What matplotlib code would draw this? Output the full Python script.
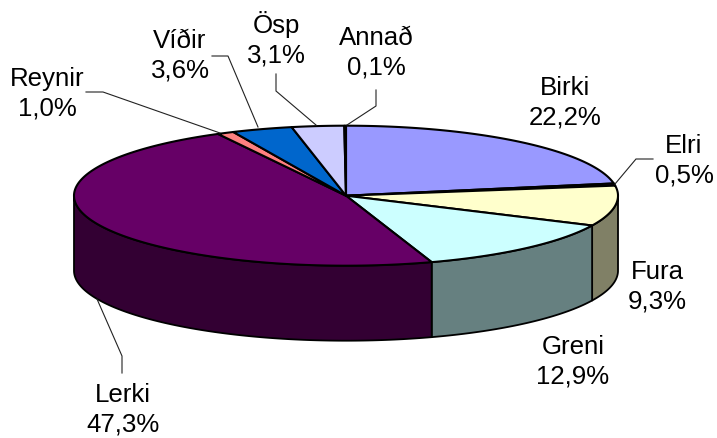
import numpy as np
import matplotlib
matplotlib.use("Agg")
import matplotlib.pyplot as plt
from matplotlib.patches import Polygon

categories = ["Birki", "Elri", "Fura", "Greni", "Lerki", "Reynir", "Víðir", "Ösp", "Annað"]
values = [22.2, 0.5, 9.3, 12.9, 47.3, 1.0, 3.6, 3.1, 0.1]
value_labels = ["22,2%", "0,5%", "9,3%", "12,9%", "47,3%", "1,0%", "3,6%", "3,1%", "0,1%"]
top_colors = ["#9999FF", "#660066", "#FFFFCC", "#CCFFFF", "#660066", "#FF8080", "#0066CC", "#CCCCFF", "#000080"]
side_colors = ["#666699", "#330033", "#808066", "#668080", "#330033", "#804040", "#003366", "#666680", "#000040"]

plt.rcParams["font.family"] = ["Liberation Sans", "DejaVu Sans"]
fig = plt.figure(figsize=(7.17, 4.39), dpi=100)
ax = fig.add_axes([0, 0, 1, 1])
ax.set_xlim(0, 717)
ax.set_ylim(439, 0)
ax.axis("off")

cx, cy, rx, ry, depth = 346, 196.7, 272, 70, 75


def pt(a):
    r = np.deg2rad(a)
    return cx + rx * np.sin(r), cy - ry * np.cos(r)


total = sum(values)
edges = np.concatenate([[0], np.cumsum(values)]) / total * 360

# side walls (only the front half of the rim is visible)
for i in range(len(values)):
    a0, a1 = max(edges[i], 90), min(edges[i + 1], 270)
    if a1 <= a0:
        continue
    ang = np.linspace(a0, a1, 120)
    xs, ys = pt(ang)
    verts = np.r_[np.c_[xs, ys], np.c_[xs, ys + depth][::-1]]
    ax.add_patch(Polygon(verts, closed=True, fc=side_colors[i], ec="black", lw=1.3, joinstyle="round"))

# top faces
for i in range(len(values)):
    ang = np.linspace(edges[i], edges[i + 1], 160)
    xs, ys = pt(ang)
    verts = np.r_[[[cx, cy]], np.c_[xs, ys]]
    ax.add_patch(Polygon(verts, closed=True, fc=top_colors[i], ec="black", lw=1.5, joinstyle="round"))

# leader lines
leaders = {
    "Elri": [(653, 160), (636, 160), (615, 185)],
    "Lerki": [(122, 374), (122, 357), (97, 300)],
    "Reynir": [(86, 93), (103, 93), (220, 134)],
    "Víðir": [(212, 57), (228, 57), (258, 128)],
    "Ösp": [(276, 75), (276, 92), (316, 126)],
    "Annað": [(376, 91), (376, 107), (347, 126)],
}
for pts in leaders.values():
    p = np.array(pts)
    ax.plot(p[:, 0], p[:, 1], color="#222222", lw=0.8, solid_joinstyle="miter")

label_pos = {
    "Birki": (565, 103), "Elri": (684, 161), "Fura": (657, 287), "Greni": (573, 362),
    "Lerki": (123, 410), "Reynir": (47, 94), "Víðir": (180, 56), "Ösp": (276, 39), "Annað": (376, 53),
}
for name, vl in zip(categories, value_labels):
    x, y = label_pos[name]
    ax.text(x, y, f"{name}\n{vl}", ha="center", va="center", fontsize=18.6,
            linespacing=1.28, color="black")

fig.savefig("out.png", dpi=100, facecolor="white")
